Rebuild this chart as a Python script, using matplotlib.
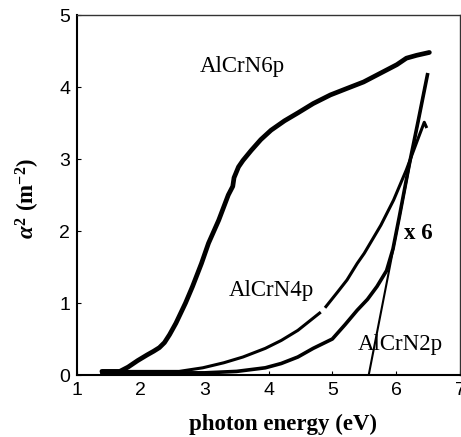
import numpy as np
import matplotlib
matplotlib.use("Agg")
import matplotlib.pyplot as plt

# ---- data ----
x6 = [1.39, 1.67, 1.80, 1.95, 2.10, 2.20, 2.29, 2.37, 2.45, 2.55, 2.70, 2.81, 2.95, 3.06, 3.22,
      3.37, 3.44, 3.46, 3.53, 3.60, 3.73, 3.88, 4.04, 4.25, 4.46, 4.70, 4.97, 5.20, 5.49, 5.75,
      6.01, 6.16, 6.32, 6.47, 6.52]
y6 = [0.05, 0.05, 0.11, 0.20, 0.28, 0.33, 0.38, 0.45, 0.56, 0.72, 1.00, 1.23, 1.55, 1.83, 2.15,
      2.50, 2.62, 2.74, 2.89, 2.98, 3.12, 3.27, 3.40, 3.53, 3.64, 3.77, 3.89, 3.97, 4.07, 4.19,
      4.31, 4.40, 4.44, 4.47, 4.48]

x4 = [1.39, 2.60, 2.97, 3.30, 3.60, 3.95, 4.20, 4.46, 4.80, np.nan, 4.90, 5.08, 5.23, 5.39, 5.50,
      5.76, 5.96, 6.16, 6.35, 6.44, 6.47]
y4 = [0.05, 0.05, 0.10, 0.17, 0.25, 0.37, 0.48, 0.62, 0.86, np.nan, 0.95, 1.15, 1.32, 1.55, 1.69,
      2.08, 2.43, 2.85, 3.30, 3.51, 3.45]

x2 = [1.39, 3.00, 3.50, 3.95, 4.20, 4.46, 4.70, 5.00, 5.20, 5.39, 5.55, 5.70, 5.85, 5.95, 6.05,
      6.20, 6.35, 6.49]
y2 = [0.03, 0.03, 0.05, 0.10, 0.16, 0.25, 0.37, 0.50, 0.70, 0.90, 1.05, 1.23, 1.45, 1.75, 2.20,
      2.90, 3.55, 4.17]

fit_x = [5.57, 6.45]
fit_y = [0.0, 4.0]

xticks = [1, 2, 3, 4, 5, 6, 7]
yticks = [0, 1, 2, 3, 4, 5]

# ---- style ----
plt.rcParams['mathtext.fontset'] = 'custom'
plt.rcParams['mathtext.rm'] = 'Liberation Serif:bold'
plt.rcParams['mathtext.bf'] = 'Liberation Serif:bold'
plt.rcParams['mathtext.it'] = 'Liberation Serif:italic:bold'

fig = plt.figure(figsize=(4.61, 4.37), dpi=100)
ax = fig.add_axes([77/461, 62/437, 383/461, 360/437])

ax.plot(x6, y6, color='black', lw=3.4, solid_capstyle='round', solid_joinstyle='round')
ax.plot(x4, y4, color='black', lw=2.2, solid_joinstyle='round')
ax.plot(x2, y2, color='black', lw=2.6, solid_joinstyle='round')
ax.plot(fit_x, fit_y, color='black', lw=1.5)

ax.set_xlim(1, 7)
ax.set_ylim(0, 5)
ax.set_xticks(xticks)
ax.set_yticks(yticks)
ax.tick_params(direction='in', length=3, width=0.8, labelsize=14, pad=5)
for lab in ax.get_xticklabels() + ax.get_yticklabels():
    lab.set_fontfamily('Liberation Sans')

for s in ['left', 'bottom']:
    ax.spines[s].set_linewidth(1.5)
for s in ['top', 'right']:
    ax.spines[s].set_linewidth(1.0)
    ax.spines[s].set_color('#333333')

tfont = dict(family='Liberation Serif', fontsize=16.5, ha='center', va='center')
ax.text(3.59, 4.28, 'AlCrN6p', **tfont)
ax.text(4.05, 1.18, 'AlCrN4p', **tfont)
ax.text(6.07, 0.42, 'AlCrN2p', **tfont)
ax.text(6.35, 1.97, 'x 6', family='Liberation Serif', fontsize=16.5, fontweight='bold',
        ha='center', va='center')

fig.text(283/461, 1 - 424/437, 'photon energy (eV)', family='Liberation Serif',
         fontsize=16.5, fontweight='bold', ha='center', va='center')
fig.text(28/461, 1 - 198/437, r'$\alpha^2\ (\mathrm{m}^{-2})$', fontsize=16.5,
         rotation=90, ha='center', va='center')

fig.savefig('out.png', dpi=100)
